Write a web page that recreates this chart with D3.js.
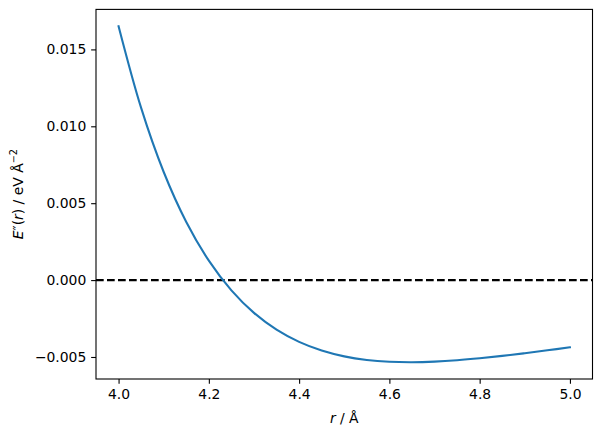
<!DOCTYPE html>
<html>
<head>
<meta charset="utf-8">
<script src="https://cdn.jsdelivr.net/npm/d3@7"></script>
<style>
  html, body { margin: 0; padding: 0; background: #fff; }
  svg { display: block; font-family: "DejaVu Sans", sans-serif; }
</style>
</head>
<body>
<svg id="chart" width="601" height="436"></svg>
<script>
// distance r / Å
const rValues = [4.00, 4.05, 4.10, 4.15, 4.20, 4.25, 4.30, 4.35, 4.40, 4.45, 4.50,
                 4.55, 4.60, 4.65, 4.70, 4.75, 4.80, 4.85, 4.90, 4.95, 5.00];
// E''(r) / eV Å^-2
const curvature = [0.016509, 0.011195, 0.0070286, 0.0037796, 0.0012636, -0.0006677,
                   -0.0021315, -0.0032237, -0.0040204, -0.0045825, -0.0049599,
                   -0.0051915, -0.0053097, -0.0053392, -0.0053014, -0.0052124,
                   -0.0050849, -0.0049296, -0.0047548, -0.0045674, -0.0043722];
const xTicks = [4.0, 4.2, 4.4, 4.6, 4.8, 5.0];
const yTicks = [-0.005, 0.000, 0.005, 0.010, 0.015];
const zeroLine = 0;

const svg = d3.select("#chart");
const L = 96, R = 592.5, T = 9.4, B = 379;

const xMin = d3.min(rValues), xMax = d3.max(rValues);
const xPad = (xMax - xMin) * 0.05;
const yMin = d3.min(curvature), yMax = d3.max(curvature);
const yPad = (yMax - yMin) * 0.05;

const x = d3.scaleLinear().domain([xMin - xPad, xMax + xPad]).range([L, R]);
const y = d3.scaleLinear().domain([yMin - yPad, yMax + yPad]).range([B, T]);

const data = rValues.map((r, i) => ({ r, v: curvature[i] }));

// zero line
svg.append("line")
  .attr("x1", L).attr("x2", R)
  .attr("y1", y(zeroLine)).attr("y2", y(zeroLine))
  .attr("stroke", "#000").attr("stroke-width", 2.08)
  .attr("stroke-dasharray", "7.7,3.3");

// curve
svg.append("path")
  .datum(data)
  .attr("fill", "none")
  .attr("stroke", "#1f77b4")
  .attr("stroke-width", 2.08)
  .attr("stroke-linecap", "square")
  .attr("d", d3.line().x(d => x(d.r)).y(d => y(d.v)).curve(d3.curveCatmullRom.alpha(0.5)));

// axes
const xAxis = d3.axisBottom(x).tickValues(xTicks).tickFormat(d3.format(".1f"))
  .tickSize(4.86).tickPadding(4.86).tickSizeOuter(0);
const yAxis = d3.axisLeft(y).tickValues(yTicks)
  .tickFormat(d => (d < 0 ? "\u2212" : "") + d3.format(".3f")(Math.abs(d)))
  .tickSize(4.86).tickPadding(4.86).tickSizeOuter(0);

const gx = svg.append("g").attr("transform", `translate(0,${B})`).call(xAxis);
const gy = svg.append("g").attr("transform", `translate(${L},0)`).call(yAxis);
[gx, gy].forEach(g => {
  g.select(".domain").remove();
  g.selectAll("line").attr("stroke", "#000").attr("stroke-width", 1.1);
  g.selectAll("text").attr("font-size", 13.9).attr("fill", "#000")
    .attr("font-family", "DejaVu Sans, sans-serif");
});

// frame
svg.append("rect")
  .attr("x", L).attr("y", T).attr("width", R - L).attr("height", B - T)
  .attr("fill", "none").attr("stroke", "#000").attr("stroke-width", 1.1);

// x label
const xl = svg.append("text")
  .attr("x", (L + R) / 2).attr("y", 423)
  .attr("text-anchor", "middle").attr("font-size", 13.9);
xl.append("tspan").attr("font-style", "italic").text("r");
xl.append("tspan").text(" / Å");

// y label
const yl = svg.append("text")
  .attr("transform", `translate(23,${(T + B) / 2}) rotate(-90)`)
  .attr("text-anchor", "middle").attr("font-size", 13.9);
yl.append("tspan").attr("font-style", "italic").text("E");
yl.append("tspan").text("\u2033(");
yl.append("tspan").attr("font-style", "italic").text("r");
yl.append("tspan").text(") / eV Å");
yl.append("tspan").attr("font-size", 9.7).attr("dy", -6).text("\u22122");
</script>
</body>
</html>
